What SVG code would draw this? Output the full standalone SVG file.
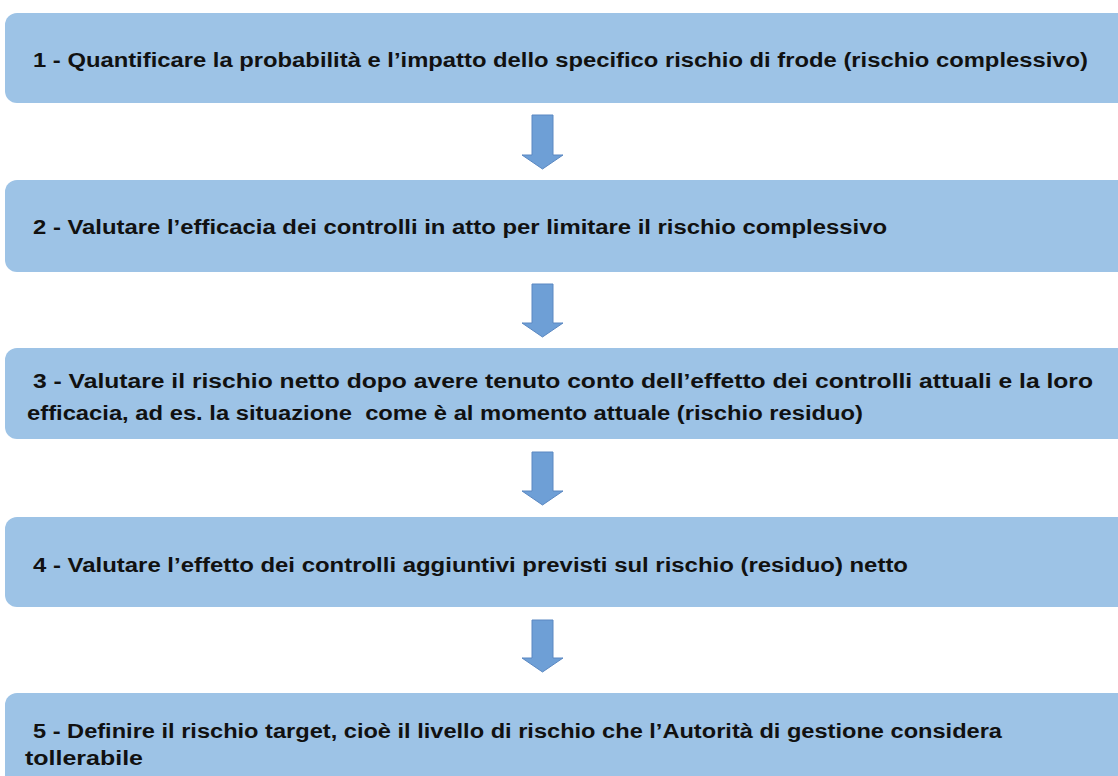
<svg xmlns="http://www.w3.org/2000/svg" width="1118" height="776" viewBox="0 0 1118 776">
<style>
.box{fill:#9dc3e6;}
.t{font-family:"Liberation Sans",Arial,sans-serif;font-weight:bold;font-size:20px;fill:#111;}
.arr{fill:#6e9fd6;stroke:#5a88c2;stroke-width:1;}
</style>
<rect width="1118" height="776" fill="#fff"/>
<g id="node1">
<rect class="box" x="5" y="13" width="1140" height="90" rx="12"/>
<text class="t" x="33" y="67" textLength="1055" lengthAdjust="spacingAndGlyphs">1 - Quantificare la probabilità e l’impatto dello specifico rischio di frode (rischio complessivo)</text>
</g>
<g id="node2">
<rect class="box" x="5" y="180" width="1140" height="92" rx="12"/>
<text class="t" x="33" y="234" textLength="854" lengthAdjust="spacingAndGlyphs">2 - Valutare l’efficacia dei controlli in atto per limitare il rischio complessivo</text>
</g>
<g id="node3">
<rect class="box" x="5" y="348" width="1140" height="91" rx="12"/>
<text class="t" x="33" y="388" textLength="1060" lengthAdjust="spacingAndGlyphs">3 - Valutare il rischio netto dopo avere tenuto conto dell’effetto dei controlli attuali e la loro</text>
<text class="t" x="27" y="420" textLength="836" lengthAdjust="spacingAndGlyphs" xml:space="preserve">efficacia, ad es. la situazione  come è al momento attuale (rischio residuo)</text>
</g>
<g id="node4">
<rect class="box" x="5" y="517" width="1140" height="90" rx="12"/>
<text class="t" x="33" y="572" textLength="875" lengthAdjust="spacingAndGlyphs">4 - Valutare l’effetto dei controlli aggiuntivi previsti sul rischio (residuo) netto</text>
</g>
<g id="node5">
<rect class="box" x="5" y="693" width="1140" height="110" rx="12"/>
<text class="t" x="33" y="738" textLength="969" lengthAdjust="spacingAndGlyphs">5 - Definire il rischio target, cioè il livello di rischio che l’Autorità di gestione considera</text>
<text class="t" x="25" y="765" textLength="118" lengthAdjust="spacingAndGlyphs">tollerabile</text>
</g>
<g id="connectors">
<path class="arr" d="M532,115 H553 V155 H563 L542.5,169 L522,155 H532 Z"/>
<path class="arr" d="M532,284 H553 V323 H563 L542.5,337 L522,323 H532 Z"/>
<path class="arr" d="M532,452 H553 V491 H563 L542.5,505 L522,491 H532 Z"/>
<path class="arr" d="M532,620 H553 V658 H563 L542.5,672 L522,658 H532 Z"/>
</g>
</svg>
